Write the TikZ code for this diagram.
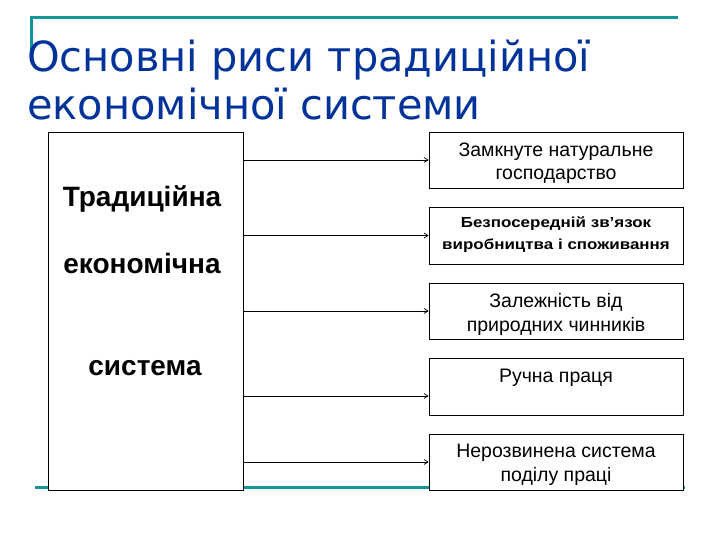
\documentclass[tikz,border=0pt]{standalone}
\usepackage{fontspec}
\setmainfont{Liberation Sans}
\newfontfamily\titlefont{DejaVu Sans}
\newfontfamily\widefont[FakeStretch=1.17]{Liberation Sans}
\usetikzlibrary{arrows.meta}
\definecolor{teal1}{RGB}{20,150,150}
\definecolor{titleblue}{RGB}{0,51,153}
\begin{document}
\begin{tikzpicture}[x=1pt,y=-1pt,
  box/.style={draw=black,fill=white,line width=0.8pt,inner sep=0pt},
  arr/.style={draw=black,line width=0.7pt,-{Straight Barb[length=4pt,width=5pt]}},
  rtext/.style={font=\fontsize{19.5}{23}\selectfont,align=center},
  btext/.style={font=\widefont\fontsize{14.5}{20}\selectfont\bfseries,anchor=base},
  ltext/.style={font=\fontsize{28}{30}\selectfont\bfseries,anchor=base}]
\useasboundingbox (0,0) rectangle (720,540);
% decorative teal lines
\draw[teal1,line width=3pt] (31,58) -- (31,18) -- (678,18);
\draw[teal1,line width=3pt] (35,487) -- (685,487);
% title
\node[anchor=base west,inner sep=0pt,text=titleblue,font=\titlefont\fontsize{41.5}{48}\selectfont] (t1) at (27,71.7) {Основні риси традиційної};
\node[anchor=base west,inner sep=0pt,text=titleblue,font=\titlefont\fontsize{41.5}{48}\selectfont] (t2) at (27,120) {економічної системи};
% left box
\node[box,minimum width=195pt,minimum height=358pt] (L) at (145.5,311) {};
\node[ltext] (l1) at (142,207) {Традиційна};
\node[ltext] (l2) at (142,273) {економічна};
\node[ltext] (l3) at (145,375) {система};
% right boxes
\node[box,minimum width=254pt,minimum height=56pt] (b1) at (556,160) {};
\node[box,minimum width=254pt,minimum height=57pt] (b2) at (556,235.5) {};
\node[box,minimum width=254pt,minimum height=56pt] (b3) at (556,311) {};
\node[box,minimum width=254pt,minimum height=57pt] (b4) at (556,386.5) {};
\node[box,minimum width=254pt,minimum height=56pt] (b5) at (556,462) {};
\node[rtext,anchor=base] (x1a) at (556,157) {Замкнуте натуральне};
\node[rtext,anchor=base] (x1b) at (556,180) {господарство};
\node[btext] (x2a) at (556,228) {Безпосередній зв’язок};
\node[btext] (x2b) at (556,249) {виробництва і споживання};
\node[rtext,anchor=base] (x3a) at (556,307) {Залежність від};
\node[rtext,anchor=base] (x3b) at (556,331) {природних чинників};
\node[rtext,anchor=base] (x4) at (556,382) {Ручна праця};
\node[rtext,anchor=base] (x5a) at (556,457) {Нерозвинена система};
\node[rtext,anchor=base] (x5b) at (556,481) {поділу праці};
% connectors
\draw[arr] (L.east |- b1.west) -- (b1.west);
\draw[arr] (L.east |- b2.west) -- (b2.west);
\draw[arr] (L.east |- b3.west) -- (b3.west);
\draw[arr] ([yshift=-9.5pt]L.east |- b4.west) -- ([yshift=-9.5pt]b4.west);
\draw[arr] (L.east |- b5.west) -- (b5.west);
\end{tikzpicture}
\end{document}
